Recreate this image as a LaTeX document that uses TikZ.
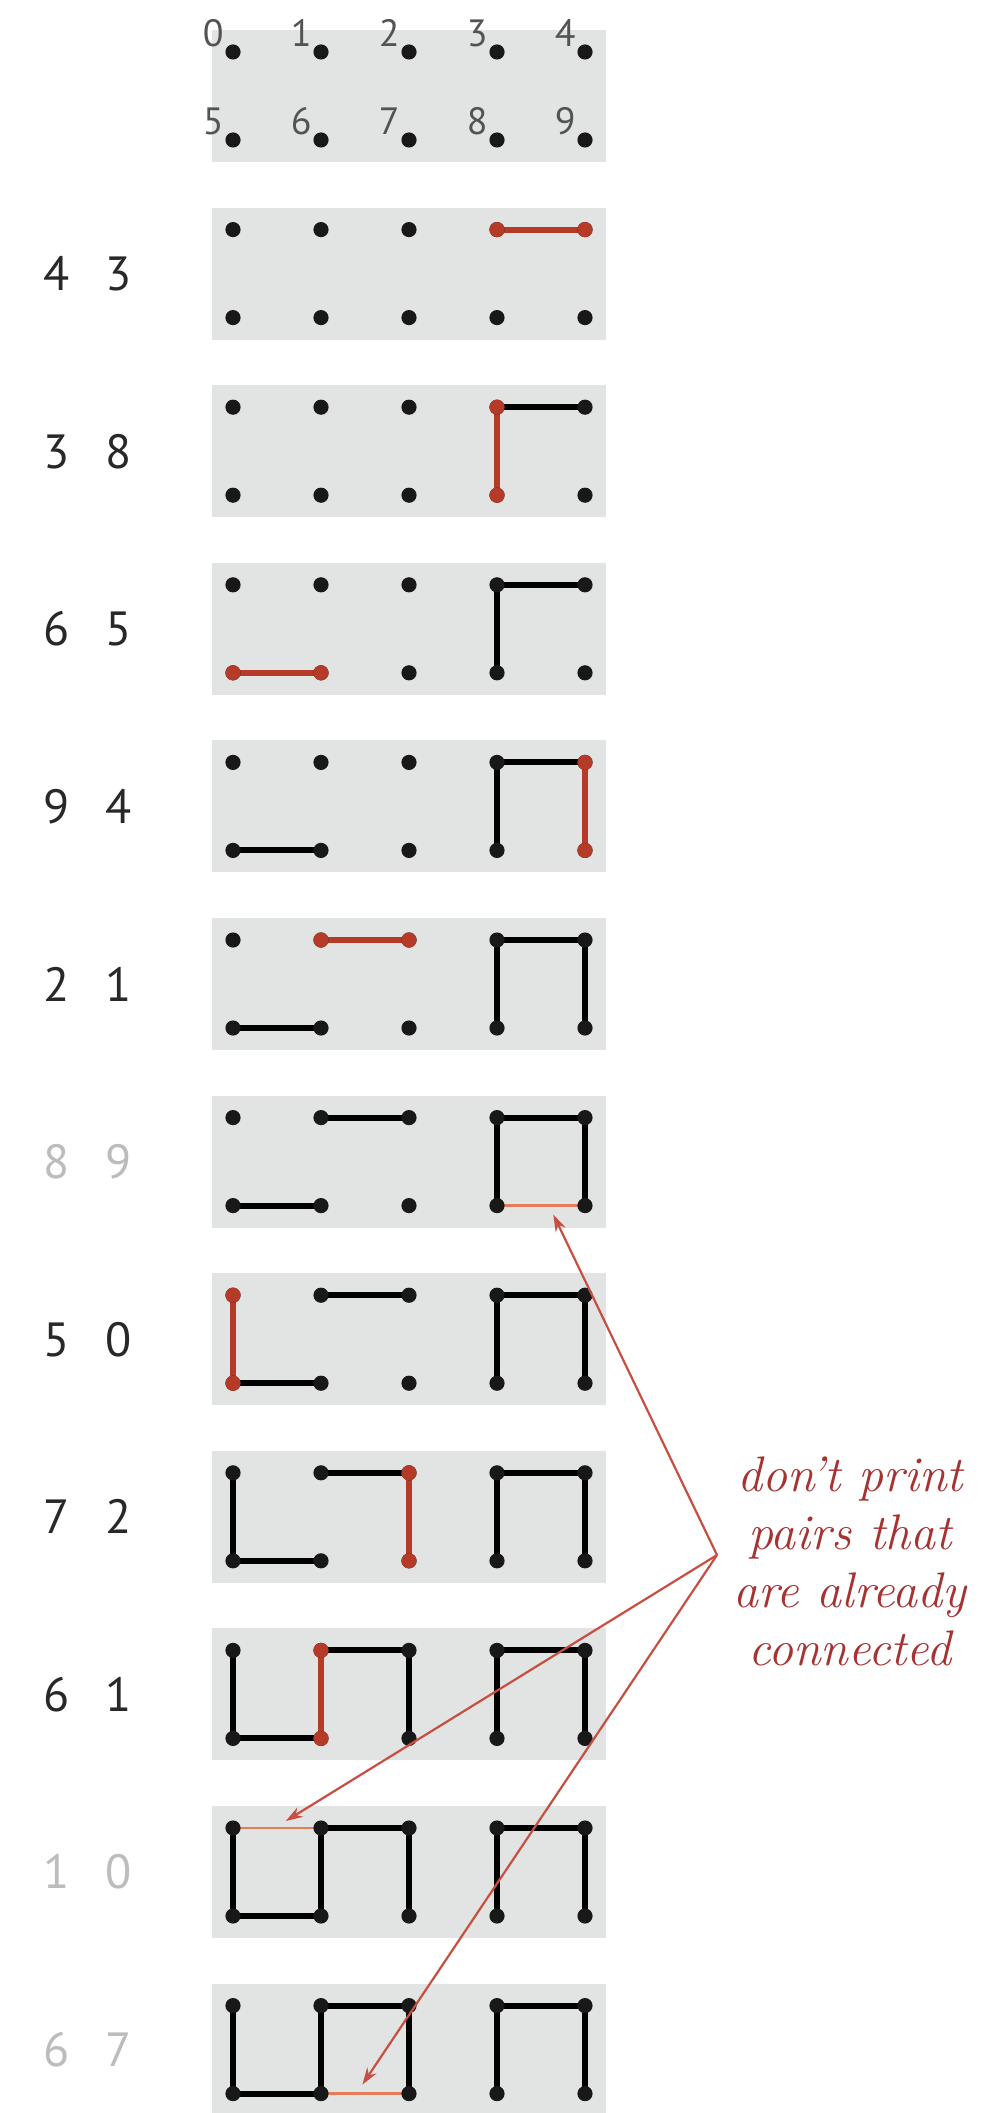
\documentclass[tikz,border=0pt]{standalone}
\usepackage{fontspec}
\setsansfont{PT Sans}
\usetikzlibrary{calc,arrows.meta}
\definecolor{dred}{RGB}{182,58,40}
\definecolor{lred}{RGB}{228,124,90}
\definecolor{nred}{RGB}{166,50,50}
\definecolor{pred}{RGB}{200,78,66}
\definecolor{boxgray}{RGB}{226,228,227}
\definecolor{pairgray}{RGB}{188,188,188}
\definecolor{ink}{RGB}{40,40,40}

\begin{document}
\begin{tikzpicture}[x=0.5pt, y=-0.5pt, font=\sffamily,
  edge/.style={line width=3pt},
  newedge/.style={dred, line width=3pt},
  skipedge/.style={lred, line width=1.4pt},
  pointer/.style={pred, line width=1.1pt, -{Stealth[length=8.5pt,width=5.5pt]}},
  pairlabel/.style={font=\sffamily\fontsize{24}{24}\selectfont, inner sep=0pt},
  sitelabel/.style={font=\sffamily\fontsize{19}{19}\selectfont, text=ink!80, inner sep=0pt, anchor=base east}]
  \clip (0,0) rectangle (995,2113);
  % Boxes and sites: row 0 is the start, rows 1..11 one pair each
  \foreach \k in {0,...,11} {
    \fill[boxgray] (212,52+177.6*\k-22) rectangle (606,52+177.6*\k+110);
    \foreach \i in {0,...,4} {
      \pgfmathtruncatemacro\j{\i+5}
      \coordinate (r\k-\i) at (233+88*\i, 52+177.6*\k);
      \coordinate (r\k-\j) at (233+88*\i, 52+177.6*\k+88);
    }
  }
  % Unions: red in its own row, black in all rows below
  \foreach \r/\a/\b in {1/3/4, 2/3/8, 3/5/6, 4/4/9, 5/1/2, 7/0/5, 8/2/7, 9/1/6} {
    \draw[newedge] (r\r-\a) -- (r\r-\b);
    \pgfmathtruncatemacro\s{\r+1}
    \foreach \k in {\s,...,11}
      \draw[edge] (r\k-\a) -- (r\k-\b);
  }
  % Pairs already connected
  \foreach \k/\a/\b in {6/8/9, 10/0/1, 11/6/7}
    \draw[skipedge] (r\k-\a) -- (r\k-\b);
  % Site markers
  \foreach \k in {0,...,11}
    \foreach \p in {0,...,9}
      \fill[ink!60!black] (r\k-\p) circle (3.8pt);
  \foreach \r/\a/\b in {1/3/4, 2/3/8, 3/5/6, 4/4/9, 5/1/2, 7/0/5, 8/2/7, 9/1/6} {
    \fill[dred] (r\r-\a) circle (3.8pt);
    \fill[dred] (r\r-\b) circle (3.8pt);
  }
  % Site numbers
  \foreach \p in {0,...,9}
    \node[sitelabel] (site\p) at ($(r0-\p)+(-9,-5)$) {\p};
  % Input pairs
  \foreach \k/\u/\v/\c in {1/4/3/ink, 2/3/8/ink, 3/6/5/ink, 4/9/4/ink, 5/2/1/ink,
      6/8/9/pairgray, 7/5/0/ink, 8/7/2/ink, 9/6/1/ink, 10/1/0/pairgray, 11/6/7/pairgray}
    \node[pairlabel, text=\c] (pair\k) at (88, 52+177.6*\k+44) {\u\hspace{18pt}\v};
  % Note
  \node[nred, font=\itshape\fontsize{25}{29}\selectfont, align=center, inner sep=0pt]
    (note) at (850,1561) {don't print\\pairs that\\are already\\connected};
  \coordinate (hub) at (717,1555);
  \coordinate (tip1) at ($(r6-8)!0.64!(r6-9)+(0,9)$);
  \coordinate (tip2) at ($(r10-0)!0.6!(r10-1)+(0,-7)$);
  \coordinate (tip3) at ($(r11-6)!0.47!(r11-7)+(0,-9)$);
  \foreach \t in {tip1,tip2,tip3}
    \draw[pointer] (hub) -- (\t);
\end{tikzpicture}
\end{document}
